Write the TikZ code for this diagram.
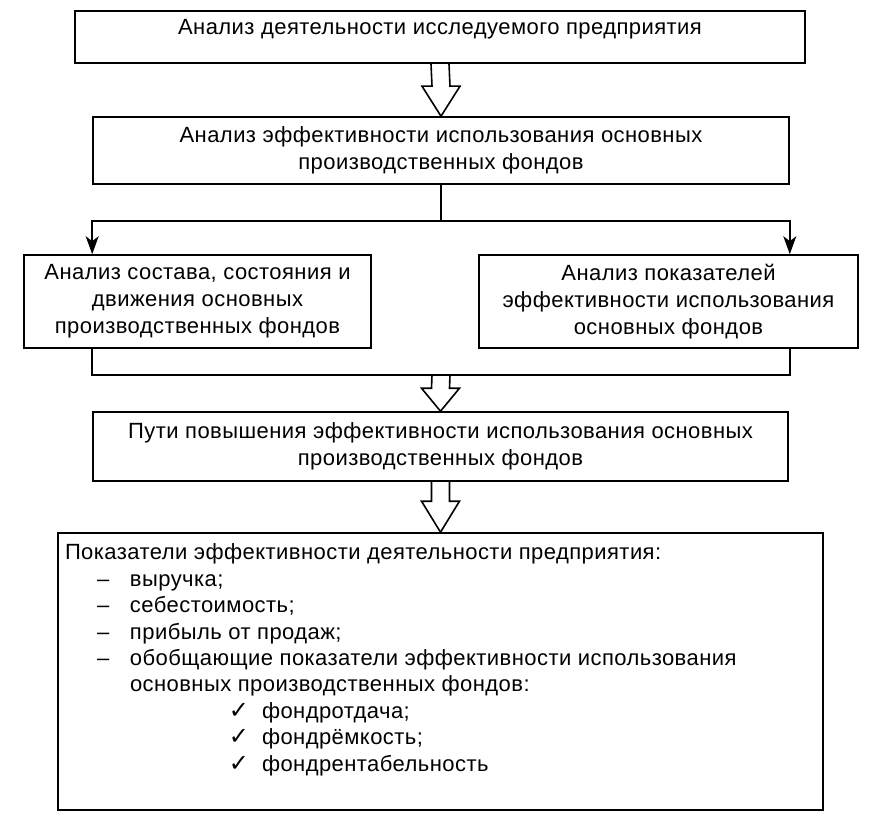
\documentclass[tikz,border=0pt]{standalone}
\usepackage{fontspec}
\setmainfont{Liberation Sans}[LetterSpace=2.0]
\newfontfamily\symfont{DejaVu Sans}
\usetikzlibrary{arrows.meta,calc}

\begin{document}
\begin{tikzpicture}[x=1pt, y=-1pt,
  box/.style={draw=black, line width=1.6pt, align=center, inner sep=0pt, font=\fontsize{22pt}{27pt}\selectfont},
  link/.style={line width=1.6pt},
  small arrow/.style={link, -{Stealth[length=18pt,width=13pt,inset=5pt]}},
  hollow/.style={to path={($(\tikztostart)+(-9pt,0)$) -- ($(\tikztotarget)+(-9pt,#1)$) -- ($(\tikztotarget)+(-19pt,#1)$) -- (\tikztotarget) -- ($(\tikztotarget)+(19pt,#1)$) -- ($(\tikztotarget)+(9pt,#1)$) -- ($(\tikztostart)+(9pt,0)$)}},
  hollow/.default=30pt
]
\path[use as bounding box] (0,0) rectangle (892,824);

\node[box, minimum width=730pt, minimum height=52pt, text height=24pt, text depth=28pt] (analysis) at (440,37) {Анализ деятельности исследуемого предприятия};
\node[box, minimum width=696pt, minimum height=67pt] (efficiency) at (441,150.5) {Анализ эффективности использования основных\\производственных фондов};
\node[box, minimum width=347pt, minimum height=93pt] (structure) at (197.5,301.5) {Анализ состава, состояния и\\движения основных\\производственных фондов};
\node[box, minimum width=379pt, minimum height=93pt] (indicators) at (668.5,301.5) {Анализ показателей\\эффективности использования\\основных фондов};
\node[box, minimum width=695pt, minimum height=69pt] (ways) at (440.5,446.5) {Пути повышения эффективности использования основных\\производственных фондов};
\node[box, align=left, inner xsep=7pt, minimum width=765pt, minimum height=277pt] (results) at (440.5,671.5)
{\parbox[t][277pt][t]{751pt}{\fontsize{22pt}{26.4pt}\selectfont\vspace*{11pt}%
Показатели эффективности деятельности предприятия:\\
\hspace*{32pt}\makebox[33pt][l]{–}выручка;\\
\hspace*{32pt}\makebox[33pt][l]{–}себестоимость;\\
\hspace*{32pt}\makebox[33pt][l]{–}прибыль от продаж;\\
\hspace*{32pt}\makebox[33pt][l]{–}обобщающие показатели эффективности использования\\
\hspace*{65pt}основных производственных фондов:\\
\hspace*{164pt}\makebox[33pt][l]{\symfont\fontsize{24pt}{26pt}\selectfont ✓}фондротдача;\\
\hspace*{164pt}\makebox[33pt][l]{\symfont\fontsize{24pt}{26pt}\selectfont ✓}фондрёмкость;\\
\hspace*{164pt}\makebox[33pt][l]{\symfont\fontsize{24pt}{26pt}\selectfont ✓}фондрентабельность}};

% connectors
\coordinate (split) at (441,221);
\coordinate (join) at (441,375);
\draw[link] (efficiency.south) -- (split);
\draw[small arrow] (split) -| (structure.north -| efficiency.west);
\draw[small arrow] (split) -| (indicators.north -| efficiency.east);
\draw[link] (structure.south -| efficiency.west) |- (join) -| (indicators.south -| efficiency.east);

% hollow arrows
\draw[link] (analysis.south) to[hollow] (efficiency.north);
\draw[link] (join) to[hollow=23pt] (ways.north);
\draw[link] (ways.south) to[hollow=31pt] (results.north);
\end{tikzpicture}
\end{document}
